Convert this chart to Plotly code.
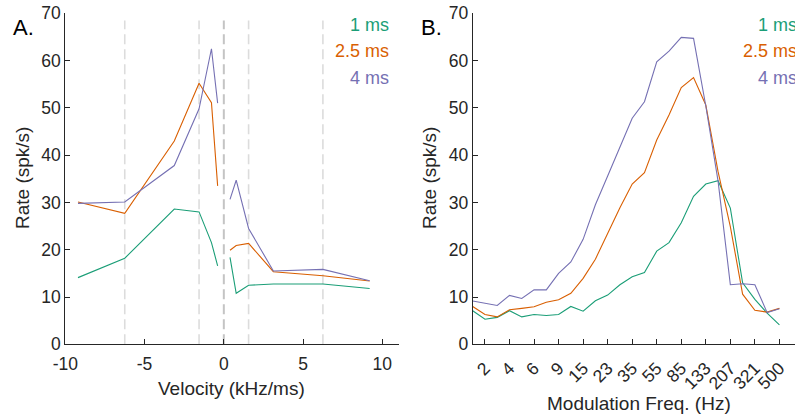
import plotly.graph_objects as go

# ---------------- data ----------------
velocity = [-9.2, -6.25, -3.125, -1.5625, -0.78, -0.39, 0.39, 0.78, 1.5625, 3.125, 6.25, 9.2]
vel_rate_1ms = [14.1, 18.2, 28.6, 28.0, 21.5, 16.6, 18.4, 10.8, 12.5, 12.75, 12.75, 11.8]
vel_rate_2_5ms = [30.1, 27.7, 43.0, 55.2, 51.1, 33.5, 19.9, 20.9, 21.35, 15.35, 14.5, 13.4]
vel_rate_4ms = [29.8, 30.1, 37.8, 49.8, 62.5, 51.0, 30.65, 34.7, 24.5, 15.5, 15.85, 13.45]
sweep_bounds = [-6.25, -1.5625, 1.5625, 6.25]

mod_index = list(range(26))
mod_rate_1ms = [7.1, 5.3, 5.7, 7.1, 5.8, 6.3, 6.1, 6.3, 8.0, 7.0, 9.2, 10.4, 12.6, 14.3,
                15.2, 19.7, 21.5, 25.7, 31.3, 33.9, 34.6, 28.8, 13.0, 9.5, 6.6, 4.1]
mod_rate_2_5ms = [8.0, 6.3, 5.8, 7.3, 7.6, 7.95, 8.9, 9.4, 10.8, 13.95, 18.0, 23.5, 28.9, 33.9,
                  36.3, 43.2, 48.5, 54.3, 56.4, 50.6, 36.5, 24.9, 10.6, 7.2, 6.8, 7.6]
mod_rate_4ms = [9.15, 8.7, 8.2, 10.35, 9.7, 11.5, 11.5, 15.0, 17.4, 22.2, 29.5, 35.6, 41.8, 47.8,
                51.3, 59.75, 62.0, 64.9, 64.7, 50.4, 34.5, 12.6, 12.8, 12.6, 6.7, 7.5]
mod_tick_index = [1, 3, 5, 7, 9, 11, 13, 15, 17, 19, 21, 23, 25]
mod_tick_labels = ["2", "4", "6", "9", "15", "23", "35", "55", "85", "133", "207", "321", "500"]

series_names = ["1 ms", "2.5 ms", "4 ms"]
colors = ["#1b9e77", "#d95f02", "#7570b3"]

FONT = "Liberation Sans, Arial, sans-serif"
TXT = "#262626"
W, H = 795, 417

def px_x(p):
    return p / W

def px_y(p):
    return 1 - p / H

fig = go.Figure()

# panel A lines (gap around zero)
for name, vals, col in zip(series_names, [vel_rate_1ms, vel_rate_2_5ms, vel_rate_4ms], colors):
    xs = velocity[:6] + [None] + velocity[6:]
    ys = vals[:6] + [None] + vals[6:]
    fig.add_trace(go.Scatter(x=xs, y=ys, mode="lines", line=dict(color=col, width=1.1),
                             name=name, showlegend=False, xaxis="x", yaxis="y",
                             connectgaps=False))

# panel B lines
for name, vals, col in zip(series_names, [mod_rate_1ms, mod_rate_2_5ms, mod_rate_4ms], colors):
    fig.add_trace(go.Scatter(x=mod_index, y=vals, mode="lines", line=dict(color=col, width=1.1),
                             name=name, showlegend=False, xaxis="x2", yaxis="y2"))

shapes = []
for b in sweep_bounds:
    shapes.append(dict(type="line", xref="x", yref="y", x0=b, x1=b, y0=0, y1=68.5,
                       line=dict(color="#dcdcdc", width=1.6, dash="10px,5px"), layer="below"))
shapes.append(dict(type="line", xref="x", yref="y", x0=0, x1=0, y0=0, y1=68.5,
                   line=dict(color="#c4c4c4", width=2, dash="10px,5px"), layer="below"))

annotations = []
# legend-like labels
for ax_right in [389, 797]:
    for i, (name, col) in enumerate(zip(series_names, colors)):
        annotations.append(dict(x=px_x(ax_right), y=px_y(25 + 26.3 * i), xref="paper", yref="paper",
                                text=name, showarrow=False, xanchor="right", yanchor="middle",
                                borderpad=0, borderwidth=0,
                                font=dict(family=FONT, size=18, color=col)))
# panel letters
annotations.append(dict(x=px_x(11), y=px_y(27), xref="paper", yref="paper", text="A.",
                        showarrow=False, xanchor="left", yanchor="middle",
                        font=dict(family=FONT, size=22, color="black")))
annotations.append(dict(x=px_x(419), y=px_y(27), xref="paper", yref="paper", text="B.",
                        showarrow=False, xanchor="left", yanchor="middle",
                        font=dict(family=FONT, size=22, color="black")))
# axis titles
annotations.append(dict(x=px_x(231), y=px_y(388), xref="paper", yref="paper", text="Velocity (kHz/ms)",
                        showarrow=False, xanchor="center", yanchor="middle",
                        font=dict(family=FONT, size=19, color=TXT)))
annotations.append(dict(x=px_x(639), y=px_y(403), xref="paper", yref="paper", text="Modulation Freq. (Hz)",
                        showarrow=False, xanchor="center", yanchor="middle",
                        font=dict(family=FONT, size=19, color=TXT)))
annotations.append(dict(x=px_x(22), y=px_y(178), xref="paper", yref="paper", text="Rate (spk/s)",
                        showarrow=False, xanchor="center", yanchor="middle", textangle=-90,
                        font=dict(family=FONT, size=19, color=TXT)))
annotations.append(dict(x=px_x(429), y=px_y(178), xref="paper", yref="paper", text="Rate (spk/s)",
                        showarrow=False, xanchor="center", yanchor="middle", textangle=-90,
                        font=dict(family=FONT, size=19, color=TXT)))

axis_common = dict(showgrid=False, zeroline=False, showline=True, linecolor=TXT, linewidth=1,
                   ticks="inside", ticklen=5, tickwidth=1, tickcolor=TXT,
                   tickfont=dict(family=FONT, size=17.5, color=TXT), mirror=False)

yd = [px_y(344.3), px_y(13.3)]
fig.update_layout(
    width=W, height=H, margin=dict(l=0, r=0, t=0, b=0, autoexpand=False),
    paper_bgcolor="white", plot_bgcolor="white", showlegend=False,
    xaxis=dict(domain=[px_x(65.3), px_x(399)], range=[-10, 11.05], tickvals=[-10, -5, 0, 5, 10],
               ticktext=["-10", "-5", "0", "5", "10"], anchor="y", automargin=False,
               ticklabelstandoff=4, **axis_common),
    yaxis=dict(domain=yd, range=[0, 70], tickvals=[0, 10, 20, 30, 40, 50, 60, 70], anchor="x",
               automargin=False, **axis_common),
    xaxis2=dict(domain=[px_x(472.7), 1.0], range=[0, 26.27], tickvals=mod_tick_index,
                ticktext=mod_tick_labels, tickangle=-45, anchor="y2", automargin=False,
                ticklabelstandoff=6, **axis_common),
    yaxis2=dict(domain=yd, range=[0, 70], tickvals=[0, 10, 20, 30, 40, 50, 60, 70], anchor="x2",
                automargin=False, **axis_common),
    shapes=shapes, annotations=annotations,
)

fig.write_html("out.html", config={"displayModeBar": False},
               post_script="document.body.style.margin='0';document.body.style.overflow='hidden';")
